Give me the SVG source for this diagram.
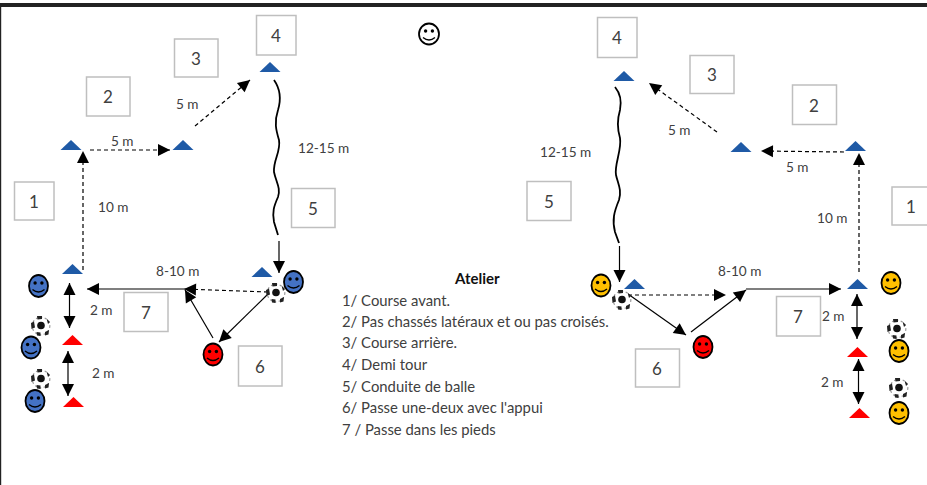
<svg xmlns="http://www.w3.org/2000/svg" width="927" height="485" viewBox="0 0 927 485">
<style>
text{font-family:Lato,"Open Sans","Liberation Sans",sans-serif;fill:#404040;font-size:14.85px}
.n{font-size:17px;text-anchor:middle}
.box{fill:#fff;stroke:#bfbfbf;stroke-width:1.5}
.l{font-size:13.6px}
.blue{fill:#1f5aa6}.red{fill:#f00}
.s{stroke:#000;stroke-width:1.8}
.sb{fill:#4472c4}.sr{fill:#f00}.sy{fill:#ffc000}.sw{fill:#fff}
.c{fill:none;stroke:#000;stroke-width:1.2}
.d{stroke-dasharray:4 3}
.w{stroke-width:1.8}
.a{marker-end:url(#h)}
.b{marker-start:url(#hs);marker-end:url(#h)}
</style>
<defs>
<marker id="h" markerUnits="userSpaceOnUse" markerWidth="14" markerHeight="14" refX="13" refY="7" orient="auto"><path d="M1 1L13 7L1 13Z" fill="#000"/></marker>
<marker id="hs" markerUnits="userSpaceOnUse" markerWidth="14" markerHeight="14" refX="1" refY="7" orient="auto"><path d="M13 1L1 7L13 13Z" fill="#000"/></marker>
<g id="face"><circle cx="-3.4" cy="-3" r="1.7" fill="#000"/><circle cx="3.4" cy="-3" r="1.7" fill="#000"/><path d="M-6 3.500Q0 8.500 6 3.500" fill="none" stroke="#000" stroke-width="1.4"/></g>
<g id="ball"><circle r="8.800" fill="#fff" stroke="#999" stroke-width="1.2" stroke-dasharray="2 2.500"/><circle r="3.800" cy="-0.500" fill="#111"/><path d="M-10 -3L-7 -4.500L-6 1.500L-9.500 3ZM-4 -10L1 -10L1 -7L-3.500 -6.500ZM5.500 -7.500L9 -4L7 -2ZM-4.500 6L-0.500 6.500L-0.500 10L-4 9.500ZM4 6L8 4L7.500 8.500L4 9.500Z" fill="#222"/></g>
<path id="tri" d="M-10.500 0L0 -10L10.500 0Z"/>
</defs>
<rect width="927" height="485" fill="#fff"/>
<rect x="0" y="3" width="927" height="4" fill="#222"/>
<rect x="0" y="3" width="1.200" height="482" fill="#222"/>

<g id="connectors">
<path class="c d a" d="M83 270V151"/>
<path class="c d a" d="M90 150H170"/>
<path class="c d a" d="M195 126L250 80"/>
<path class="c w" d="M274 80C281 90 281 100 278 110C274 122 276 130 279 140C281 152 273 160 274 172C276 182 281 188 278 197C274 206 272 212 274 222L278 235"/>
<path class="c a" d="M279 241V273"/>
<path class="c a" d="M186 289H87"/>
<path class="c d a" d="M268 292L184 289"/>
<path class="c a" d="M213 338L185 290"/>
<path class="c a" d="M267 295L219 342"/>
<path class="c b" d="M69.500 283V328"/>
<path class="c b" d="M68 351V396"/>
<path class="c d a" d="M859 272V153"/>
<path class="c d a" d="M844 152L761 151"/>
<path class="c d a" d="M717 132L649 83"/>
<path class="c w" d="M615 87C620 93 622 100 620 110C617 120 617 128 620 138C622 150 614 165 616 175C618 184 622 190 619 200C614 212 612 220 615 232L619 243"/>
<path class="c a" d="M619.500 246V282"/>
<path class="c d a" d="M628 295H726"/>
<path class="c a" d="M628 294L686 335"/>
<path class="c a" d="M691 332L746 290"/>
<path class="c a" d="M746 289H841"/>
<path class="c b" d="M857 294V339"/>
<path class="c b" d="M858.500 359V404"/>
</g>

<g id="box-l1"><rect class="box" x="14.500" y="182" width="39.500" height="38"/><text class="n" x="34" y="208">1</text></g>
<g id="box-l2"><rect class="box" x="86.500" y="77" width="43.500" height="39"/><text class="n" x="108" y="103">2</text></g>
<g id="box-l3"><rect class="box" x="174.500" y="39" width="43.500" height="38"/><text class="n" x="196" y="65">3</text></g>
<g id="box-l4"><rect class="box" x="256.500" y="15.500" width="39.500" height="39.500"/><text class="n" x="276" y="42">4</text></g>
<g id="box-l5"><rect class="box" x="291.500" y="188.500" width="43.500" height="39"/><text class="n" x="313" y="215">5</text></g>
<g id="box-l6"><rect class="box" x="238.500" y="346" width="43.500" height="40"/><text class="n" x="260" y="373">6</text></g>
<g id="box-l7"><rect class="box" x="124" y="292.500" width="44" height="39"/><text class="n" x="146" y="319">7</text></g>
<g id="box-r1"><rect class="box" x="892" y="187" width="40" height="38"/><text class="n" x="911" y="213">1</text></g>
<g id="box-r2"><rect class="box" x="792.500" y="85" width="44" height="39.500"/><text class="n" x="814" y="112">2</text></g>
<g id="box-r3"><rect class="box" x="690" y="55.500" width="44" height="38"/><text class="n" x="712" y="81">3</text></g>
<g id="box-r4"><rect class="box" x="597.500" y="17.500" width="39.500" height="40"/><text class="n" x="617" y="44">4</text></g>
<g id="box-r5"><rect class="box" x="527" y="181.500" width="44" height="39"/><text class="n" x="549" y="208">5</text></g>
<g id="box-r6"><rect class="box" x="635.500" y="349" width="44" height="38"/><text class="n" x="657" y="375">6</text></g>
<g id="box-r7"><rect class="box" x="776.500" y="296.500" width="44" height="39.500"/><text class="n" x="798" y="323">7</text></g>

<g id="cones">
<use href="#tri" class="blue" x="71" y="150"/>
<use href="#tri" class="blue" x="183" y="150"/>
<use href="#tri" class="blue" x="270" y="72"/>
<use href="#tri" class="blue" x="72.500" y="274"/>
<use href="#tri" class="blue" x="262" y="277"/>
<use href="#tri" class="red" x="72.500" y="345"/>
<use href="#tri" class="red" x="73.500" y="407"/>
<use href="#tri" class="blue" x="624" y="81"/>
<use href="#tri" class="blue" x="741" y="152"/>
<use href="#tri" class="blue" x="855.500" y="151"/>
<use href="#tri" class="blue" x="634.500" y="289"/>
<use href="#tri" class="blue" x="857.500" y="289"/>
<use href="#tri" class="red" x="857.500" y="357"/>
<use href="#tri" class="red" x="859.500" y="418"/>
</g>

<g id="balls">
<use href="#ball" x="41" y="326"/>
<use href="#ball" x="41" y="379"/>
<use href="#ball" x="276" y="293"/>
<use href="#ball" x="622" y="300"/>
<use href="#ball" x="897" y="329"/>
<use href="#ball" x="899" y="388"/>
</g>

<g id="smiley-top"><ellipse class="s sw" cx="429" cy="34" rx="10" ry="10.500"/><use href="#face" x="429" y="34"/></g>
<g id="p-l1"><ellipse class="s sb" cx="38.500" cy="286" rx="9.500" ry="11"/><use href="#face" x="38.500" y="286"/></g>
<g id="p-l2"><ellipse class="s sb" cx="31" cy="347.500" rx="9.500" ry="11"/><use href="#face" x="31" y="347.500"/></g>
<g id="p-l3"><ellipse class="s sb" cx="35" cy="401" rx="9.500" ry="11"/><use href="#face" x="35" y="401"/></g>
<g id="p-l4"><ellipse class="s sb" cx="293.500" cy="282" rx="9.500" ry="11"/><use href="#face" x="293.500" y="282"/></g>
<g id="p-lr"><ellipse class="s sr" cx="213" cy="354.500" rx="9.500" ry="11"/><use href="#face" x="213" y="354.500"/></g>
<g id="p-r1"><ellipse class="s sy" cx="601" cy="285.500" rx="9.500" ry="11"/><use href="#face" x="601" y="285.500"/></g>
<g id="p-r2"><ellipse class="s sy" cx="891" cy="283" rx="9.500" ry="11"/><use href="#face" x="891" y="283"/></g>
<g id="p-r3"><ellipse class="s sy" cx="899" cy="351" rx="9.500" ry="11"/><use href="#face" x="899" y="351"/></g>
<g id="p-r4"><ellipse class="s sy" cx="899" cy="413" rx="9.500" ry="11"/><use href="#face" x="899" y="413"/></g>
<g id="p-rr"><ellipse class="s sr" cx="703" cy="347" rx="9.500" ry="11"/><use href="#face" x="703" y="347"/></g>

<g id="labels">
<text class="l" x="111" y="146">5 m</text>
<text class="l" x="176" y="109">5 m</text>
<text class="l" x="98" y="212">10 m</text>
<text class="l" x="298" y="153">12-15 m</text>
<text class="l" x="156" y="276">8-10 m</text>
<text class="l" x="90" y="315">2 m</text>
<text class="l" x="92" y="378">2 m</text>
<text class="l" x="540" y="157">12-15 m</text>
<text class="l" x="668" y="135">5 m</text>
<text class="l" x="786" y="172">5 m</text>
<text class="l" x="817" y="223">10 m</text>
<text class="l" x="718" y="276">8-10 m</text>
<text class="l" x="822" y="321">2 m</text>
<text class="l" x="821" y="387">2 m</text>
</g>
<g id="legend">
<text x="455" y="284" style="fill:#111;font-weight:700;font-size:15px">Atelier</text>
<text x="342" y="306">1/ Course avant.</text>
<text x="342" y="327">2/ Pas chassés latéraux et ou pas croisés.</text>
<text x="342" y="348">3/ Course arrière.</text>
<text x="342" y="370">4/ Demi tour</text>
<text x="342" y="392">5/ Conduite de balle</text>
<text x="342" y="413">6/ Passe une-deux avec l'appui</text>
<text x="342" y="435">7 / Passe dans les pieds</text>
</g>
</svg>
